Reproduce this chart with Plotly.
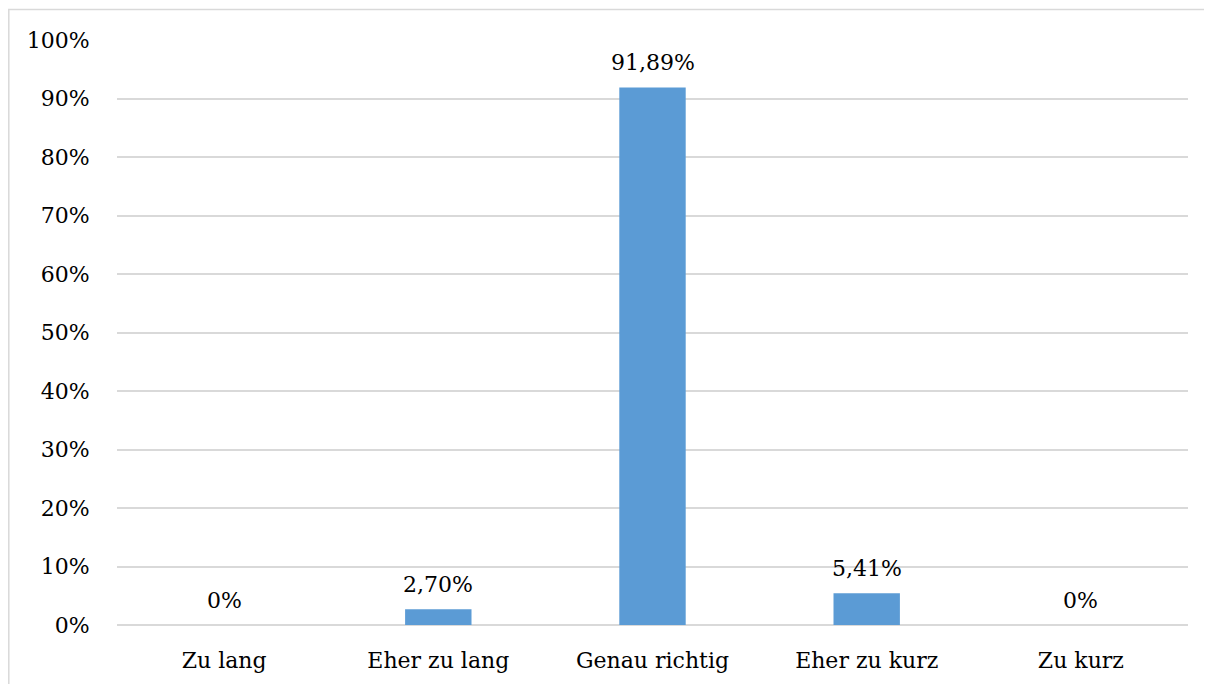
import plotly.graph_objects as go

categories = ["Zu lang", "Eher zu lang", "Genau richtig", "Eher zu kurz", "Zu kurz"]
values = [0.0, 0.027, 0.9189, 0.0541, 0.0]
value_labels = ["0%", "2,70%", "91,89%", "5,41%", "0%"]
y_ticks = [0, 0.1, 0.2, 0.3, 0.4, 0.5, 0.6, 0.7, 0.8, 0.9, 1.0]
y_tick_labels = ["0%", "10%", "20%", "30%", "40%", "50%", "60%", "70%", "80%", "90%", "100%"]

FONT = "DejaVu Serif"
FS = 22

fig = go.Figure()
fig.add_trace(go.Bar(x=categories, y=values, marker_color="#5b9bd5",
                     marker_line_width=0, hoverinfo="skip"))

for c, v, t in zip(categories, values, value_labels):
    fig.add_annotation(x=c, y=v, text=t, showarrow=False, yanchor="middle",
                       yshift=25, font=dict(family=FONT, size=FS, color="#000000"))

# page has an 8px body margin; figure drawn at (8, 8)
W, H = 1204, 676
L, R, T, B = 109, 24, 32, 59
pw, ph = W - L - R, H - T - B

def px_x(p):
    return (p - L) / pw

def px_y(p):
    return (H - B - p) / ph

fig.add_shape(type="rect", xref="paper", yref="paper",
              x0=px_x(0.8), x1=px_x(1197.5), y0=px_y(690), y1=px_y(1.5),
              line=dict(color="#d9d9d9", width=1.5), fillcolor="rgba(0,0,0,0)",
              layer="below")

fig.update_layout(
    width=W, height=H,
    margin=dict(l=L, r=R, t=T, b=B, pad=0, autoexpand=False),
    paper_bgcolor="white", plot_bgcolor="white",
    bargap=0.69, showlegend=False,
    font=dict(family=FONT, size=FS, color="#000000"),
    xaxis=dict(showgrid=False, zeroline=False, showline=False, automargin=False,
               ticks="outside", ticklen=16, tickcolor="rgba(0,0,0,0)",
               tickfont=dict(family=FONT, size=FS)),
    yaxis=dict(range=[0, 1.0], tickvals=y_ticks, ticktext=y_tick_labels,
               automargin=False,
               showgrid=True, gridcolor="#d9d9d9", gridwidth=1.5,
               zeroline=True, zerolinecolor="#d9d9d9", zerolinewidth=1.5,
               showline=False, ticks="outside", ticklen=22,
               tickcolor="rgba(0,0,0,0)", tickfont=dict(family=FONT, size=FS)),
)

fig.write_html("out.html")
